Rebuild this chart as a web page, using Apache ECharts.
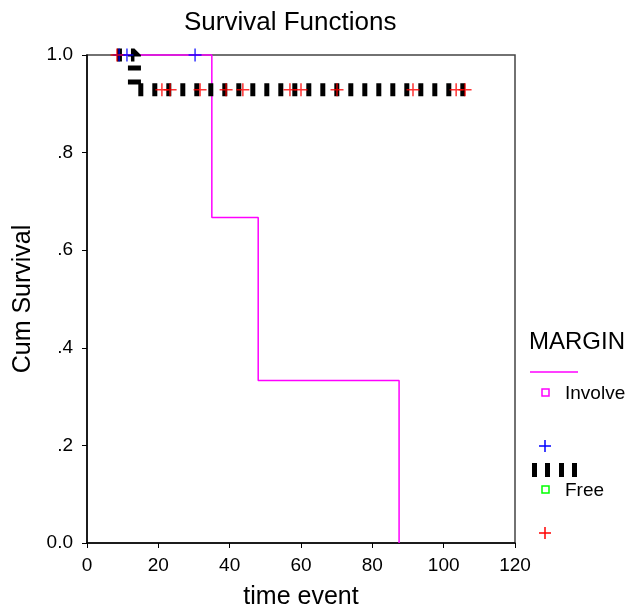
<!DOCTYPE html>
<html>
<head>
<meta charset="utf-8">
<script src="https://cdn.jsdelivr.net/npm/echarts@6/dist/echarts.min.js"></script>
<style>
  html, body { margin: 0; padding: 0; background: #fff; }
  #chart { width: 630px; height: 615px; }
</style>
</head>
<body>
<div id="chart"></div>
<script>
// Kaplan-Meier steps: [time, cum survival after that time]
var involveSteps = [[8, 1], [35, 0.667], [48, 0.333], [87.5, 0]];
var involveCensored = [[9, 1], [11.2, 1], [30.3, 1]];
var freeSteps = [[8.4, 1], [13.3, 0.929], [106, 0.929]];
var freeCensored = [
    [8.4, 1], [21.0, 0.929], [23.3, 0.929], [31.7, 0.929], [39.0, 0.929], [43.7, 0.929],
    [56.9, 0.929], [60.0, 0.929], [70.1, 0.929], [91.4, 0.929], [103.5, 0.929], [106.0, 0.929]
];
var xTicks = [0, 20, 40, 60, 80, 100, 120];
var yTickLabels = ['0.0', '.2', '.4', '.6', '.8', '1.0'];

var FONT = 'Liberation Sans';
var plus = 'path://M0,5 L10,5 M5,0 L5,10';

var chart = echarts.init(document.getElementById('chart'));
chart.setOption({
    animation: false,
    textStyle: { fontFamily: FONT },
    title: {
        text: 'Survival Functions',
        left: 179,
        top: 5,
        textStyle: { fontFamily: FONT, fontSize: 26, fontWeight: 'normal', color: '#000' }
    },
    grid: {
        left: 87, right: 115, top: 55, bottom: 72,
        show: true, borderColor: '#444', borderWidth: 1.5, backgroundColor: '#fff'
    },
    xAxis: {
        type: 'value',
        min: xTicks[0], max: xTicks[xTicks.length - 1], interval: 20,
        name: 'time event',
        nameLocation: 'middle',
        nameGap: 42,
        nameTextStyle: { fontSize: 25, color: '#000' },
        axisLine: { onZero: false, lineStyle: { color: '#000', width: 1.5 } },
        axisTick: { show: true, length: 5, lineStyle: { color: '#000' } },
        axisLabel: { fontSize: 19, color: '#000', margin: 13 },
        splitLine: { show: false }
    },
    yAxis: {
        type: 'value',
        min: 0, max: 1, interval: 0.2,
        name: 'Cum Survival',
        nameLocation: 'middle',
        nameGap: 50,
        nameTextStyle: { fontSize: 25, color: '#000' },
        axisLine: { show: true, onZero: false, lineStyle: { color: '#000', width: 1.5 } },
        axisTick: { show: true, length: 5, lineStyle: { color: '#000' } },
        axisLabel: {
            fontSize: 19, color: '#000', margin: 14,
            formatter: function (v) { return yTickLabels[Math.round(v * 5)]; }
        },
        splitLine: { show: false }
    },
    series: [
        {
            name: 'Involve',
            type: 'line',
            step: 'end',
            data: involveSteps,
            symbol: 'none',
            clip: false,
            lineStyle: { color: '#ff00ff', width: 1.5 }
        },
        {
            name: 'Free',
            type: 'line',
            step: 'end',
            data: freeSteps,
            symbol: 'none',
            clip: false,
            z: 3,
            lineStyle: { color: '#000', width: 13, type: [5, 9], cap: 'butt' }
        },
        {
            name: 'Involve censored',
            type: 'scatter',
            data: involveCensored,
            symbol: plus,
            symbolSize: 13,
            z: 5,
            itemStyle: { color: 'none', borderColor: '#0000ff', borderWidth: 1.5 }
        },
        {
            name: 'Free censored',
            type: 'scatter',
            data: freeCensored,
            symbol: plus,
            symbolSize: 13,
            z: 5,
            itemStyle: { color: 'none', borderColor: '#ff0000', borderWidth: 1.5 }
        }
    ],
    graphic: [
        { type: 'text', left: 529, top: 330, style: { text: 'MARGIN', font: '24px ' + FONT, fill: '#000' } },
        { type: 'line', shape: { x1: 530, y1: 372, x2: 578, y2: 372 }, style: { stroke: '#ff00ff', lineWidth: 1.5 } },
        { type: 'rect', shape: { x: 542, y: 389, width: 7, height: 7 }, style: { fill: 'none', stroke: '#ff00ff', lineWidth: 1.5 } },
        { type: 'text', left: 565, top: 384, style: { text: 'Involve', font: '19px ' + FONT, fill: '#000' } },
        { type: 'line', shape: { x1: 539, y1: 446, x2: 551, y2: 446 }, style: { stroke: '#0000ff', lineWidth: 1.5 } },
        { type: 'line', shape: { x1: 545, y1: 440, x2: 545, y2: 452 }, style: { stroke: '#0000ff', lineWidth: 1.5 } },
        { type: 'rect', shape: { x: 532, y: 463, width: 5, height: 14 }, style: { fill: '#000' } },
        { type: 'rect', shape: { x: 545, y: 463, width: 5, height: 14 }, style: { fill: '#000' } },
        { type: 'rect', shape: { x: 559, y: 463, width: 5, height: 14 }, style: { fill: '#000' } },
        { type: 'rect', shape: { x: 572, y: 463, width: 5, height: 14 }, style: { fill: '#000' } },
        { type: 'rect', shape: { x: 542, y: 486, width: 7, height: 7 }, style: { fill: 'none', stroke: '#00ff00', lineWidth: 1.5 } },
        { type: 'text', left: 565, top: 481, style: { text: 'Free', font: '19px ' + FONT, fill: '#000' } },
        { type: 'line', shape: { x1: 539, y1: 533, x2: 551, y2: 533 }, style: { stroke: '#ff0000', lineWidth: 1.5 } },
        { type: 'line', shape: { x1: 545, y1: 527, x2: 545, y2: 539 }, style: { stroke: '#ff0000', lineWidth: 1.5 } }
    ]
});
</script>
</body>
</html>
